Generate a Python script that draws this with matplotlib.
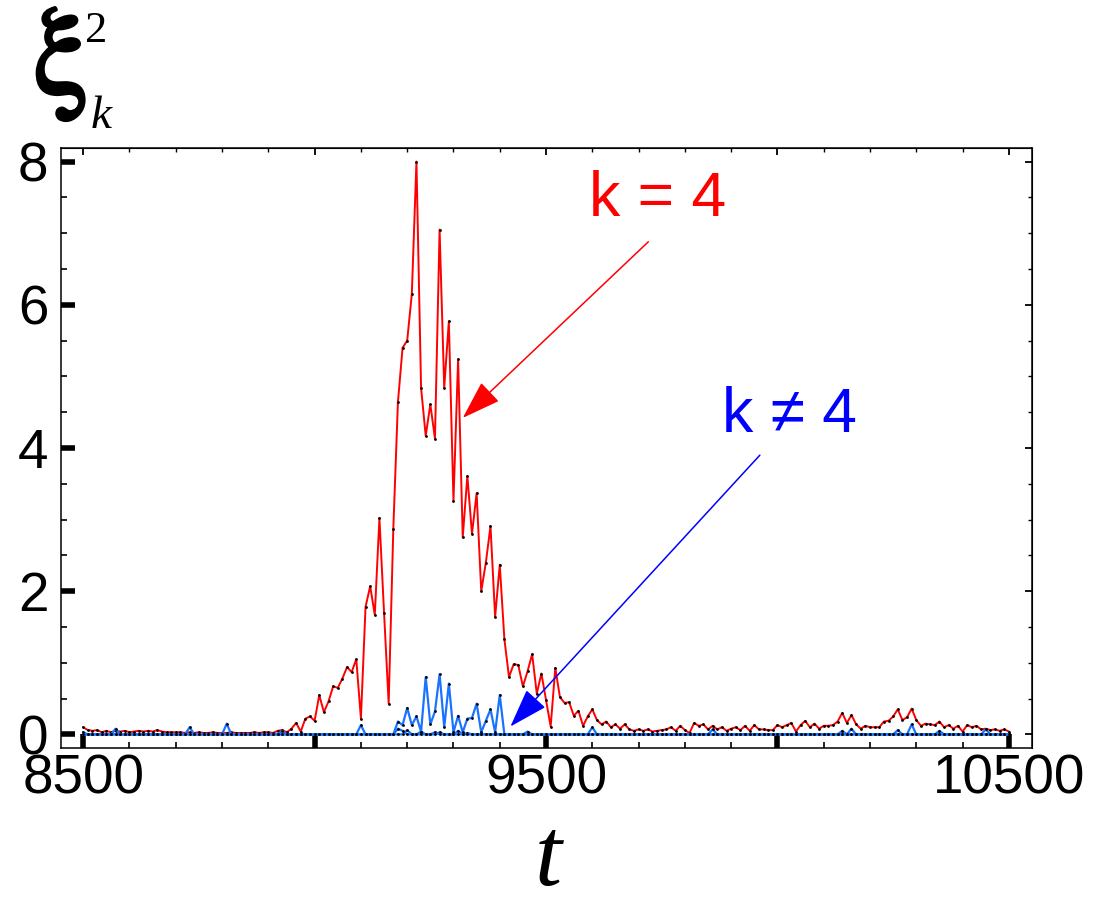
import numpy as np
import matplotlib
matplotlib.use("Agg")
import matplotlib.pyplot as plt
import matplotlib.patheffects as pe
from matplotlib.ticker import MultipleLocator, FixedLocator, FixedFormatter

# time axis, one sample every 10 units
t = np.arange(8500, 10501, 10)

# k = 4 mode
xi_k4 = [
    0.10, 0.06, 0.05, 0.06, 0.03, 0.05, 0.03, 0.05, 0.04, 0.05,   # 8500
    0.03, 0.04, 0.05, 0.04, 0.05, 0.04, 0.06, 0.04, 0.03, 0.03,   # 8600
    0.03, 0.03, 0.02, 0.03, 0.02, 0.03, 0.02, 0.02, 0.03, 0.02,   # 8700
    0.02, 0.02, 0.03, 0.02, 0.02, 0.02, 0.02, 0.03, 0.02, 0.03,   # 8800
    0.03, 0.02, 0.05, 0.06, 0.03, 0.08, 0.16, 0.04, 0.22, 0.25,   # 8900
    0.19, 0.55, 0.31, 0.46, 0.67, 0.65, 0.78, 0.94, 0.87, 1.05,   # 9000
    0.22, 1.78, 2.07, 1.67, 3.02, 1.70, 0.43, 2.87, 4.64, 5.40,   # 9100
    5.50, 6.15, 8.00, 4.84, 4.17, 4.61, 4.13, 7.05, 4.84, 5.77,   # 9200
    3.26, 5.24, 2.75, 3.61, 2.80, 3.37, 2.00, 2.40, 2.91, 1.64,   # 9300
    2.37, 1.33, 0.80, 0.98, 0.97, 0.67, 0.88, 1.12, 0.57, 0.85,   # 9400
    0.48, 0.11, 0.93, 0.52, 0.44, 0.45, 0.26, 0.33, 0.12, 0.25,   # 9500
    0.35, 0.20, 0.14, 0.18, 0.10, 0.14, 0.08, 0.14, 0.07, 0.05,   # 9600
    0.07, 0.05, 0.07, 0.04, 0.05, 0.06, 0.07, 0.10, 0.05, 0.12,   # 9700
    0.06, 0.02, 0.16, 0.12, 0.14, 0.07, 0.12, 0.07, 0.10, 0.05,   # 9800
    0.08, 0.10, 0.06, 0.12, 0.05, 0.13, 0.07, 0.07, 0.06, 0.06,   # 9900
    0.13, 0.10, 0.13, 0.16, 0.04, 0.13, 0.19, 0.10, 0.15, 0.08,   # 10000
    0.12, 0.12, 0.13, 0.18, 0.30, 0.16, 0.27, 0.14, 0.08, 0.12,   # 10100
    0.10, 0.10, 0.10, 0.18, 0.19, 0.25, 0.35, 0.20, 0.24, 0.36,   # 10200
    0.20, 0.12, 0.15, 0.14, 0.13, 0.18, 0.10, 0.13, 0.08, 0.12,   # 10300
    0.04, 0.13, 0.10, 0.12, 0.07, 0.08, 0.06, 0.07, 0.05, 0.07,   # 10400
    0.04,                                                         # 10500
]

# k != 4 modes: mostly zero, listed as {t: value}
bumps_a = {9180: 0.18, 9190: 0.13, 9200: 0.37, 9210: 0.13, 9220: 0.25,
           9230: 0.04, 9240: 0.80, 9250: 0.14, 9260: 0.32, 9270: 0.84,
           9280: 0.10, 9290: 0.71, 9300: 0.03, 9310: 0.26, 9320: 0.03,
           9330: 0.22, 9340: 0.23, 9350: 0.43, 9360: 0.03, 9370: 0.19,
           9380: 0.35, 9390: 0.03, 9400: 0.55}
bumps_b = {8500: 0.03, 8570: 0.08, 8730: 0.10, 8810: 0.15, 8930: 0.05,
           9100: 0.13, 9180: 0.08, 9190: 0.05, 9230: 0.04, 9270: 0.03,
           9310: 0.05, 9460: 0.04, 9600: 0.10, 9860: 0.07, 10140: 0.05,
           10160: 0.08, 10260: 0.06, 10290: 0.14, 10350: 0.05, 10450: 0.07}
bumps_c = {9200: 0.06, 9260: 0.03, 9330: 0.02}


def series_from(bumps):
    return np.array([bumps.get(int(v), 0.0) for v in t])


xi_other = [series_from(b) for b in (bumps_c, bumps_b, bumps_a)]

W, H = 1118, 907
fig = plt.figure(figsize=(W / 100, H / 100), dpi=100)
ax = fig.add_axes([61 / W, 1 - 748 / H, (1032 - 61) / W, (748 - 148) / H])

ax.plot(t, xi_k4, color="red", lw=1.4, marker="o", ms=2.0,
        mfc="k", mec="k", mew=0, zorder=3)
for ys in xi_other:
    ax.plot(t, ys, color="#1a73ff", lw=1.6, marker="o", ms=2.0,
            mfc="k", mec="k", mew=0, zorder=4)

ax.set_xlim(8452, 10550)
ax.set_ylim(-0.19, 8.19)

ax.xaxis.set_major_locator(FixedLocator([8500, 9000, 9500, 10000, 10500]))
ax.xaxis.set_major_formatter(FixedFormatter(["8500", "", "9500", "", "10500"]))
ax.xaxis.set_minor_locator(MultipleLocator(100))
ax.yaxis.set_major_locator(MultipleLocator(2))
ax.yaxis.set_minor_locator(MultipleLocator(0.5))
ax.tick_params(which="major", direction="in", length=10, width=4)
ax.tick_params(which="minor", direction="in", length=4, width=1.2)
ax.tick_params(axis="x", which="major", pad=4)
ax.tick_params(axis="y", which="major", pad=9)
for lab in ax.get_xticklabels() + ax.get_yticklabels():
    lab.set_fontfamily("Liberation Sans")
    lab.set_fontsize(39.5)
for sp in ax.spines.values():
    sp.set_linewidth(1.1)

# lighter ticks on the top and right edges
top = ax.secondary_xaxis("top")
top.xaxis.set_major_locator(FixedLocator([8500, 9000, 9500, 10000, 10500]))
top.xaxis.set_minor_locator(MultipleLocator(100))
top.tick_params(which="major", direction="in", length=5, width=1.3, labeltop=False)
top.tick_params(which="minor", direction="in", length=3, width=1.0)
right = ax.secondary_yaxis("right")
right.yaxis.set_major_locator(MultipleLocator(2))
right.yaxis.set_minor_locator(MultipleLocator(0.5))
right.tick_params(which="major", direction="in", length=5, width=1.3, labelright=False)
right.tick_params(which="minor", direction="in", length=3, width=1.0)

# arrows
head = "-|>,head_length=24.7,head_width=8.2"
ax.annotate("", xy=(9320, 4.42), xytext=(9721, 6.88),
            arrowprops=dict(arrowstyle=head, mutation_scale=1, color="red",
                            lw=1.1, shrinkA=0, shrinkB=0), zorder=5)
ax.annotate("", xy=(9423, 0.11), xytext=(9962, 3.90),
            arrowprops=dict(arrowstyle=head, mutation_scale=1, color="blue",
                            lw=1.1, shrinkA=0, shrinkB=0), zorder=5)

lab_font = ["Liberation Sans", "DejaVu Sans"]
fig.text(658 / W, 1 - 199 / H, "k = 4", color="red", family=lab_font,
         size=45, ha="center", va="center")
fig.text(789 / W, 1 - 415 / H, "k \u2260 4", color="blue", family=lab_font,
         size=45, ha="center", va="center")

# axis titles
fig.text(33 / W, 1 - 94 / H, r"$\mathrm{\xi}$", math_fontfamily="stix",
         size=90, ha="left", va="baseline",
         path_effects=[pe.withStroke(linewidth=2.5, foreground="k")])
fig.text(91 / W, 1 - 128 / H, "k", family="Liberation Serif",
         style="italic", size=34, ha="left", va="baseline")
fig.text(85 / W, 1 - 42 / H, "2", family="Liberation Serif",
         size=32, ha="left", va="baseline")
fig.text(548 / W, 1 - 862 / H, "t", family="Liberation Serif",
         style="italic", size=70, ha="center", va="center")

fig.savefig("out.png", dpi=100)
